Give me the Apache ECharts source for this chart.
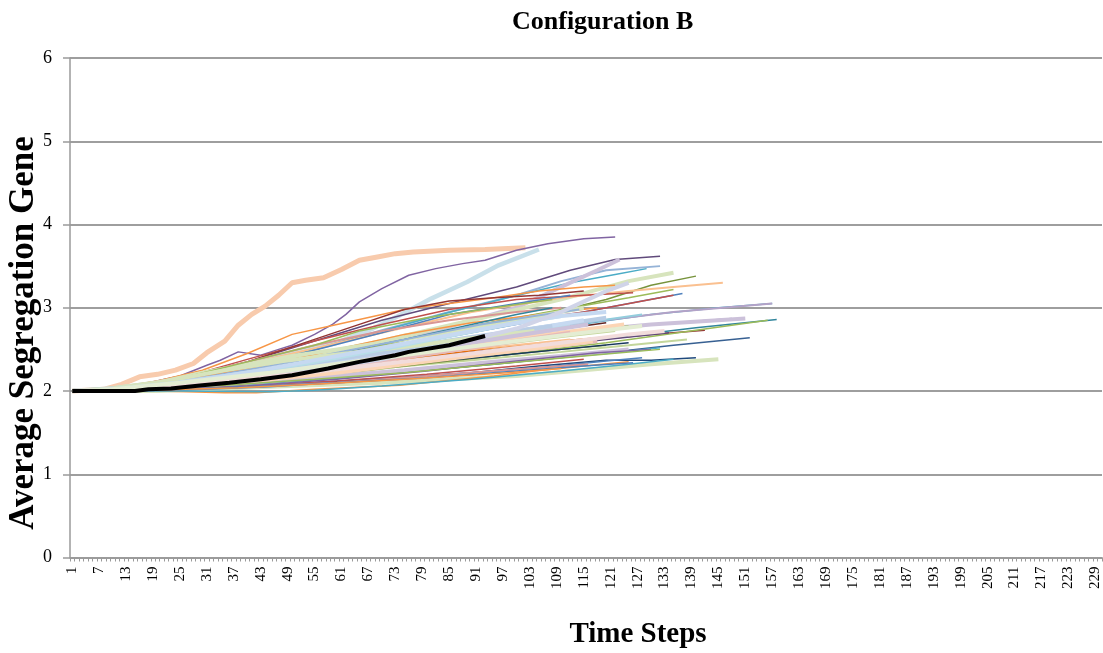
<!DOCTYPE html>
<html>
<head>
<meta charset="utf-8">
<script src="https://cdn.jsdelivr.net/npm/echarts@6/dist/echarts.min.js"></script>
<style>
html,body{margin:0;padding:0;background:#fff;}
#chart{width:1103px;height:653px;}
</style>
</head>
<body>
<div id="chart"></div>
<script>
// ---- categories (time steps) ----
const timeSteps = [1,2,3,4,5,6,7,8,9,10,11,12,13,14,15,16,17,18,19,20,21,22,23,24,25,26,27,28,29,30,31,32,33,34,35,36,37,38,39,40,41,42,43,44,45,46,47,48,49,50,51,52,53,54,55,56,57,58,59,60,61,62,63,64,65,66,67,68,69,70,71,72,73,74,75,76,77,78,79,80,81,82,83,84,85,86,87,88,89,90,91,92,93,94,95,96,97,98,99,100,101,102,103,104,105,106,107,108,109,110,111,112,113,114,115,116,117,118,119,120,121,122,123,124,125,126,127,128,129,130,131,132,133,134,135,136,137,138,139,140,141,142,143,144,145,146,147,148,149,150,151,152,153,154,155,156,157,158,159,160,161,162,163,164,165,166,167,168,169,170,171,172,173,174,175,176,177,178,179,180,181,182,183,184,185,186,187,188,189,190,191,192,193,194,195,196,197,198,199,200,201,202,203,204,205,206,207,208,209,210,211,212,213,214,215,216,217,218,219,220,221,222,223,224,225,226,227,228,229,230];
const yTicks = [0,1,2,3,4,5,6];

// ---- runs: [time step, average segregation gene] ----
const run01 = [[1,2],[8,2.02],[12,2.08],[16,2.17],[20,2.2],[24,2.25],[28,2.33],[31,2.46],[35,2.6],[38,2.79],[41,2.92],[44,3.02],[47,3.15],[50,3.3],[53,3.33],[57,3.36],[61,3.46],[65,3.57],[69,3.61],[73,3.65],[77,3.67],[85,3.69],[93,3.7],[102,3.72]];
const run02 = [[1,2],[10,2.02],[18,2.1],[25,2.18],[31,2.31],[34,2.37],[38,2.47],[43,2.43],[47,2.5],[50,2.55],[55,2.68],[59,2.8],[62,2.92],[65,3.07],[70,3.23],[76,3.39],[82,3.47],[88,3.53],[93,3.57],[100,3.69],[107,3.77],[115,3.83],[122,3.85]];
const run03 = [[1,2],[10,2.03],[20,2.1],[30,2.2],[40,2.33],[50,2.45],[60,2.58],[68,2.75],[74,2.91],[81,3.11],[89,3.31],[96,3.51],[105,3.7]];
const run04 = [[1,2],[12,2.03],[25,2.14],[40,2.35],[55,2.6],[70,2.85],[85,3.05],[100,3.25],[112,3.45],[122,3.58],[132,3.62]];
const run05 = [[1,2],[10,2.02],[25,2.15],[40,2.32],[55,2.5],[70,2.73],[85,2.95],[100,3.15],[110,3.32],[120,3.45],[132,3.5]];
const run06 = [[1,2],[14,2.03],[28,2.16],[42,2.33],[56,2.52],[70,2.72],[84,2.93],[98,3.12],[112,3.3],[122,3.4],[129,3.47]];
const run07 = [[1,2],[15,2.03],[30,2.12],[45,2.25],[60,2.4],[75,2.62],[90,2.85],[100,3.0],[110,3.25],[118,3.45],[123,3.58]];
const run08 = [[1,2],[12,2.02],[30,2.15],[50,2.38],[70,2.6],[90,2.85],[110,3.1],[125,3.32],[135,3.42]];
const run09 = [[1,2],[15,2.02],[35,2.17],[55,2.4],[75,2.62],[95,2.83],[110,2.97],[120,3.1],[130,3.27],[140,3.38]];
const run10 = [[1,2],[10,2.03],[30,2.2],[50,2.45],[70,2.7],[90,2.95],[110,3.12],[125,3.2],[135,3.25],[146,3.3]];
const run11 = [[1,2],[15,2.02],[35,2.15],[55,2.35],[75,2.55],[95,2.75],[115,2.95],[128,3.08],[137,3.17]];
const run12 = [[1,2],[10,2.03],[20,2.12],[30,2.25],[40,2.45],[50,2.68],[60,2.8],[70,2.92],[76,2.99],[85,3.05],[95,3.12],[105,3.2],[115,3.25],[122,3.27]];
const run13 = [[1,2],[12,2.02],[25,2.15],[40,2.38],[55,2.6],[70,2.8],[85,2.98],[100,3.1],[115,3.15],[126,3.18]];
const run14 = [[1,2],[15,2.02],[35,2.12],[55,2.25],[75,2.38],[95,2.5],[115,2.6],[130,2.68],[142,2.73]];
const run15 = [[1,2],[18,2.02],[40,2.12],[60,2.25],[80,2.4],[100,2.52],[120,2.63],[140,2.76],[158,2.86]];
const run16 = [[1,2],[12,2.02],[30,2.14],[50,2.3],[70,2.47],[90,2.62],[110,2.77],[130,2.92],[145,3.0],[157,3.05]];
const run17 = [[1,2],[15,2.03],[35,2.18],[55,2.35],[75,2.52],[95,2.68],[115,2.82],[135,2.95],[157,3.05]];
const run18 = [[1,2],[14,2.02],[35,2.15],[55,2.3],[75,2.45],[95,2.6],[115,2.72],[130,2.8],[148,2.87]];
const run19 = [[1,2],[20,2.02],[40,2.1],[60,2.2],[80,2.33],[100,2.45],[120,2.58],[140,2.73],[156,2.85]];
const run20 = [[1,2],[12,2.03],[30,2.15],[50,2.3],[70,2.45],[90,2.58],[110,2.7],[130,2.8],[151,2.87]];
const run21 = [[1,2],[20,2.01],[45,2.1],[70,2.2],[95,2.32],[115,2.43],[135,2.55],[152,2.64]];
const run22 = [[1,2],[15,2.02],[40,2.12],[65,2.25],[90,2.37],[110,2.47],[125,2.55],[138,2.62]];
const run23 = [[1,2],[20,2.01],[45,2.07],[70,2.15],[90,2.22],[105,2.3],[120,2.37],[130,2.37],[140,2.4]];
const run24 = [[1,2],[20,2.0],[45,2.05],[70,2.1],[85,2.14],[100,2.18],[115,2.25],[130,2.32],[145,2.38]];
const run25 = [[1,2],[20,2.0],[35,1.98],[42,1.98],[55,2.02],[74,2.07],[82,2.11],[95,2.18],[104,2.24],[115,2.3],[125,2.35]];
const run26 = [[1,2],[12,2.03],[30,2.15],[50,2.33],[70,2.55],[90,2.78],[110,2.98],[125,3.12],[135,3.22]];
const run27 = [[1,2],[15,2.02],[35,2.18],[55,2.4],[75,2.62],[95,2.8],[115,2.95],[135,3.15]];
const run28 = [[1,2],[10,2.03],[25,2.15],[40,2.35],[55,2.62],[65,2.8],[75,2.98],[85,3.08],[95,3.12],[105,3.15],[115,3.2]];
const run29 = [[1,2],[12,2.02],[30,2.18],[50,2.42],[70,2.7],[85,2.92],[100,3.05],[112,3.15]];
const run30 = [[1,2],[15,2.02],[35,2.14],[55,2.3],[75,2.48],[95,2.65],[115,2.82],[128,2.92]];
const run31 = [[1,2],[10,2.02],[25,2.16],[40,2.35],[55,2.55],[70,2.72],[85,2.85],[100,2.95],[110,3.0]];
const run32 = [[1,2],[18,2.02],[40,2.15],[60,2.3],[80,2.45],[100,2.6],[115,2.72],[125,2.78]];
const run33 = [[1,2],[15,2.02],[35,2.12],[55,2.25],[75,2.38],[95,2.52],[110,2.6],[120,2.65]];
const run34 = [[1,2],[20,2.02],[40,2.12],[60,2.25],[80,2.38],[100,2.5],[120,2.62],[134,2.7]];
const run35 = [[1,2],[12,2.02],[30,2.12],[50,2.25],[70,2.4],[90,2.55],[110,2.7],[124,2.8]];
const run36 = [[1,2],[10,2.02],[30,2.15],[50,2.3],[70,2.48],[90,2.65],[110,2.8],[120,2.88]];
const run37 = [[1,2],[15,2.02],[35,2.1],[55,2.2],[75,2.32],[95,2.45],[110,2.55],[118,2.6]];
const run38 = [[1,2],[20,2.01],[40,2.08],[60,2.15],[80,2.25],[100,2.35],[120,2.45],[132,2.52]];
const run39 = [[1,2],[25,2.01],[45,2.05],[65,2.12],[85,2.2],[105,2.28],[120,2.36],[128,2.4]];
const run40 = [[1,2],[20,2.01],[40,2.06],[60,2.12],[80,2.2],[100,2.3],[115,2.38]];
const run41 = [[1,2],[15,2.02],[35,2.1],[55,2.2],[75,2.3],[95,2.42],[110,2.5],[120,2.55]];
const run42 = [[1,2],[12,2.02],[30,2.12],[50,2.28],[70,2.45],[90,2.6],[105,2.72],[113,2.78]];
const run43 = [[1,2],[10,2.02],[28,2.15],[45,2.32],[60,2.5],[75,2.68],[90,2.82],[105,2.92],[118,3.0]];
const run44 = [[1,2],[8,2.02],[20,2.1],[30,2.22],[40,2.32],[50,2.42],[60,2.5],[75,2.62],[90,2.75],[105,2.9],[115,3.0]];
const run45 = [[1,2],[10,2.02],[25,2.1],[40,2.2],[55,2.3],[70,2.42],[85,2.55],[100,2.68],[112,2.78]];
const run46 = [[1,2],[15,2.02],[30,2.12],[45,2.28],[60,2.45],[75,2.62],[90,2.8],[100,2.92],[108,3.0]];
const run47 = [[1,2],[18,2.02],[35,2.1],[55,2.2],[75,2.32],[95,2.42],[110,2.5],[125,2.58]];
const run48 = [[1,2],[15,2.01],[35,2.08],[55,2.16],[75,2.25],[95,2.35],[110,2.42],[125,2.5]];
const run49 = [[1,2],[20,2.01],[40,2.05],[60,2.1],[80,2.18],[100,2.26],[116,2.32]];
const run50 = [[1,2],[15,2.02],[35,2.14],[55,2.28],[75,2.42],[95,2.55],[110,2.65],[122,2.72]];
const run51 = [[1,2],[12,2.02],[30,2.12],[50,2.25],[70,2.38],[90,2.5],[105,2.58],[112,2.62]];
const run52 = [[1,2],[25,2.0],[45,1.99],[55,2.01],[70,2.06],[90,2.14],[110,2.24],[125,2.32],[135,2.38]];
const run53 = [[1,2],[20,2.01],[40,2.06],[60,2.14],[80,2.24],[100,2.36],[118,2.46],[130,2.5]];
const run54 = [[1,2],[12,2.02],[28,2.14],[45,2.3],[62,2.48],[78,2.65],[92,2.8],[104,2.9],[114,2.98]];
const run55 = [[1,2],[18,2.02],[38,2.15],[58,2.32],[78,2.5],[98,2.66],[112,2.76],[120,2.82]];
const run56 = [[1,2],[10,2.02],[30,2.12],[50,2.26],[70,2.42],[90,2.6],[105,2.76],[115,2.85]];
const run57 = [[1,2],[12,2.03],[25,2.15],[40,2.35],[55,2.55],[65,2.72],[80,2.88],[95,3.0],[108,3.1]];
const run58 = [[1,2],[20,2.01],[40,2.05],[60,2.1],[80,2.16],[100,2.24],[115,2.3],[126,2.34]];
const run59 = [[1,2],[18,2.01],[38,2.04],[58,2.09],[78,2.15],[98,2.22],[110,2.27]];
const run60 = [[1,2],[15,2.02],[35,2.07],[55,2.14],[75,2.22],[95,2.32],[115,2.42],[132,2.5]];
const run61 = [[1,2],[8,2.02],[20,2.08],[35,2.18],[50,2.3],[65,2.42],[80,2.55],[95,2.68],[108,2.78]];
const run62 = [[1,2],[12,2.02],[25,2.08],[40,2.16],[55,2.26],[70,2.36],[85,2.48],[100,2.6],[112,2.7]];
const run63 = [[1,2],[10,2.03],[22,2.12],[35,2.25],[48,2.36],[62,2.45],[78,2.55],[92,2.65],[104,2.72]];
const run64 = [[1,2],[14,2.02],[30,2.1],[45,2.2],[60,2.32],[75,2.45],[90,2.58],[104,2.7],[116,2.8]];
const run65 = [[1,2],[10,2.02],[25,2.1],[40,2.22],[55,2.35],[70,2.5],[85,2.66],[100,2.82],[110,2.9]];
const run66 = [[1,2],[15,2.02],[30,2.08],[45,2.14],[60,2.22],[75,2.32],[90,2.42],[105,2.52],[117,2.6]];
const run67 = [[1,2],[12,2.02],[28,2.12],[42,2.24],[56,2.38],[70,2.52],[84,2.66],[98,2.8],[110,2.9],[120,2.95]];
const run68 = [[1,2],[15,2.02],[30,2.1],[50,2.22],[70,2.38],[85,2.55],[100,2.75],[110,2.95],[120,3.2],[125,3.3]];
const run69 = [[1,2],[12,2.02],[30,2.1],[50,2.2],[70,2.32],[90,2.45],[110,2.58],[125,2.68],[133,2.72]];
const run70 = [[1,2],[10,2.02],[25,2.1],[45,2.22],[65,2.36],[85,2.5],[100,2.6],[115,2.7],[128,2.78]];
const meanRun = [[1,2],[15,2.0],[18,2.02],[23,2.03],[30,2.07],[36,2.1],[43,2.14],[50,2.19],[58,2.27],[65,2.35],[73,2.43],[76,2.47],[85,2.55],[93,2.66]];

const runs = [run01,run02,run03,run04,run05,run06,run07,run08,run09,run10,run11,run12,run13,run14,run15,run16,run17,run18,run19,run20,run21,run22,run23,run24,run25,run26,run27,run28,run29,run30,run31,run32,run33,run34,run35,run36,run37,run38,run39,run40,run41,run42,run43,run44,run45,run46,run47,run48,run49,run50,run51,run52,run53,run54,run55,run56,run57,run58,run59,run60,run61,run62,run63,run64,run65,run66,run67,run68,run69,run70];

// ---- styles (kept apart from the values) ----
const runColors = ['#F8CBAD','#8064A2','#C9E0EA','#604A7B','#95B3D7','#4BACC6','#CCC1DA','#D7E4BD','#77933C','#FAC090',
  '#4F81BD','#F79646','#C0504D','#953735','#31859C','#4BACC6','#B3A2C7','#8064A2','#9BBB59','#CCC1DA',
  '#376092','#C3D69B','#1F497D','#D7E4BD','#F79646','#9BBB59','#C0504D','#943634','#4F81BD','#93CDDD',
  '#D99694','#9BBB59','#E46C0A','#5F497A','#FCD5B5','#B9CDE5','#E6B9B8','#4BACC6','#4F81BD','#C0504D',
  '#77933C','#B3A2C7','#F79646','#D7E4BD','#B7DEE8','#31859C','#17375E','#CCC1DA','#D99694','#C3D69B',
  '#FAC090','#4BACC6','#8064A2','#95B3D7','#632523','#C6D9F1','#9BBB59','#4F81BD','#F79646','#9BBB59',
  '#B9CDE5','#E6B9B8','#D7E4BD','#CCC1DA','#B7DEE8','#FCD5B5','#C6D9F1','#D0D4E8','#F2DCDB','#E4EDD3'];
const runWidths = [5,1.5,4.5,1.5,2,1.5,4,4,1.5,2,
  1.5,1.5,1.5,1.5,1.5,1.5,2,1.5,1.5,4,
  1.5,2,1.5,4,1.5,1.5,1.5,1.5,1.5,2,
  2,1.5,1.5,1.5,4,4,4,1.5,1.5,1.5,
  1.5,2,1.5,4,4,1.5,1.5,4,2,2,
  2,1.5,1.5,2,1.5,4,1.5,1.5,1.5,1.5,
  4,4,4,4,4,4,4,4,4,4];

const FONT = '"Liberation Serif","Times New Roman",serif';

const series = runs.map((run, i) => ({
  type: 'line',
  name: 'Run ' + (i + 1),
  data: run.map(([s, v]) => [timeSteps.indexOf(s), v]),
  showSymbol: false,
  symbol: 'none',
  lineStyle: { color: runColors[i], width: runWidths[i] },
  itemStyle: { color: runColors[i] },
  z: 2
}));
series.push({
  type: 'line',
  name: 'Average',
  data: meanRun.map(([s, v]) => [timeSteps.indexOf(s), v]),
  showSymbol: false,
  symbol: 'none',
  lineStyle: { color: '#000000', width: 4 },
  itemStyle: { color: '#000000' },
  z: 3
});

const chart = echarts.init(document.getElementById('chart'), null, { renderer: 'canvas' });
chart.setOption({
  animation: false,
  backgroundColor: '#ffffff',
  title: {
    text: 'Configuration B',
    left: 507,
    top: 4,
    textStyle: { fontFamily: FONT, fontWeight: 'bold', fontSize: 26, color: '#000' }
  },
  grid: { left: 70, right: 1, top: 58, bottom: 95.5, containLabel: false },
  xAxis: {
    type: 'category',
    data: timeSteps,
    boundaryGap: true,
    axisLine: { show: true, lineStyle: { color: '#9A9A9A', width: 1.5 } },
    axisTick: { show: true, interval: 0, length: 4, lineStyle: { color: '#9A9A9A', width: 1 } },
    axisLabel: { interval: 5, rotate: 90, margin: 9, fontFamily: FONT, fontSize: 15, color: '#000' },
    splitLine: { show: false }
  },
  yAxis: {
    type: 'value',
    min: yTicks[0],
    max: yTicks[yTicks.length - 1],
    interval: 1,
    axisLine: { show: true, lineStyle: { color: '#9A9A9A', width: 1.5 } },
    axisTick: { show: true, length: 7, lineStyle: { color: '#9A9A9A', width: 1.5 } },
    axisLabel: { margin: 18, fontFamily: FONT, fontSize: 18, color: '#000' },
    splitLine: { show: true, lineStyle: { color: '#9E9E9E', width: 2 } }
  },
  graphic: [
    {
      type: 'text',
      x: 638, y: 635,
      style: { text: 'Time Steps', font: 'bold 29px ' + FONT, fill: '#000', textAlign: 'center', textVerticalAlign: 'middle' }
    },
    {
      type: 'text',
      x: 24, y: 333,
      rotation: Math.PI / 2,
      style: { text: 'Average Segregation Gene', font: 'bold 35px ' + FONT, fill: '#000', textAlign: 'center', textVerticalAlign: 'middle' }
    }
  ],
  series: series
});
</script>
</body>
</html>
